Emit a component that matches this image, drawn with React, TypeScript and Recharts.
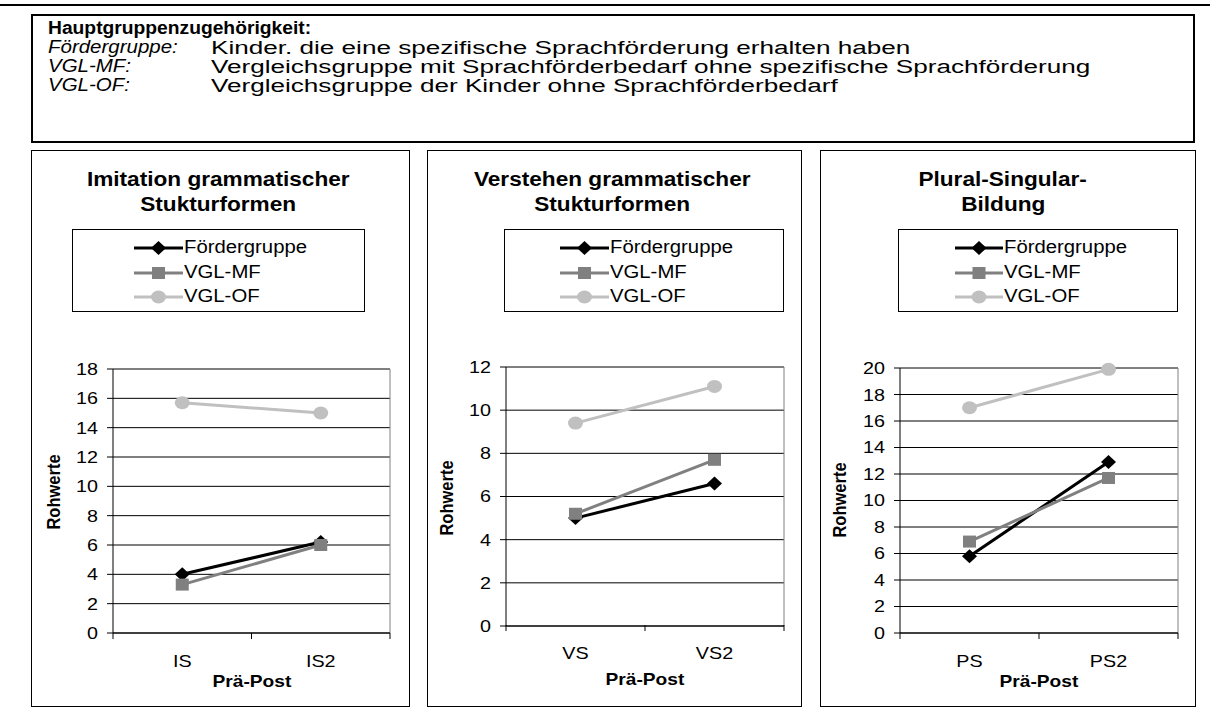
import React from 'react';
import { LineChart, Line, XAxis, YAxis, CartesianGrid, ReferenceLine } from 'recharts';

// series
const seriesNames = ['Fördergruppe', 'VGL-MF', 'VGL-OF'];

// Imitation grammatischer Stukturformen
const imitationCats = ['IS', 'IS2'];
const imitationFoerder = [4.0, 6.2];
const imitationMF = [3.3, 6.0];
const imitationOF = [15.7, 15.0];
const imitationTicks = [0, 2, 4, 6, 8, 10, 12, 14, 16, 18];

// Verstehen grammatischer Stukturformen
const verstehenCats = ['VS', 'VS2'];
const verstehenFoerder = [5.0, 6.6];
const verstehenMF = [5.2, 7.7];
const verstehenOF = [9.4, 11.1];
const verstehenTicks = [0, 2, 4, 6, 8, 10, 12];

// Plural-Singular-Bildung
const pluralCats = ['PS', 'PS2'];
const pluralFoerder = [5.8, 12.9];
const pluralMF = [6.9, 11.7];
const pluralOF = [17.0, 19.9];
const pluralTicks = [0, 2, 4, 6, 8, 10, 12, 14, 16, 18, 20];

const headerTitle = 'Hauptgruppenzugehörigkeit:';
const headerTerms = ['Fördergruppe:', 'VGL-MF:', 'VGL-OF:'];
const headerDescs = [
  'Kinder. die eine spezifische Sprachförderung erhalten haben',
  'Vergleichsgruppe mit Sprachförderbedarf ohne spezifische Sprachförderung',
  'Vergleichsgruppe der Kinder ohne Sprachförderbedarf',
];

const xTitle = 'Prä-Post';
const yTitle = 'Rohwerte';

const COLORS = ['#000000', '#808080', '#C0C0C0'];
const KEYS = ['foerder', 'mf', 'of'];
const FONT = '"Liberation Sans", Arial, Helvetica, sans-serif';
const SX = 1.16; // the source picture is stretched sideways

const Stretch = ({ children, origin = 'left center', sx = SX }: any) => (
  <span style={{ display: 'inline-block', transform: `scaleX(${sx})`, transformOrigin: origin, whiteSpace: 'nowrap' }}>
    {children}
  </span>
);

// x = left edge (or centre), y = vertical centre
const TextAt = ({ x, y, size, bold, italic, center, sx = SX, children }: any) => {
  const style: React.CSSProperties = {
    position: 'absolute',
    top: y - size / 2,
    fontSize: size,
    lineHeight: `${size}px`,
    fontFamily: FONT,
    fontWeight: bold ? 700 : 400,
    fontStyle: italic ? 'italic' : 'normal',
    whiteSpace: 'nowrap',
    color: '#000',
  };
  if (center) {
    return (
      <div style={{ ...style, left: x - 300, width: 600, textAlign: 'center' }}>
        <Stretch origin="center center" sx={sx}>{children}</Stretch>
      </div>
    );
  }
  return (
    <div style={{ ...style, left: x }}>
      <Stretch sx={sx}>{children}</Stretch>
    </div>
  );
};

const Marker = ({ kind, cx, cy }: any) => {
  if (kind === 0) {
    return <path d={`M${cx},${cy - 7} L${cx + 7.5},${cy} L${cx},${cy + 7} L${cx - 7.5},${cy} Z`} fill={COLORS[0]} />;
  }
  if (kind === 1) {
    return <rect x={cx - 6.5} y={cy - 6} width={13} height={12} fill={COLORS[1]} />;
  }
  return <ellipse cx={cx} cy={cy} rx={7.5} ry={6.5} fill={COLORS[2]} />;
};

const YTick = ({ x, y, payload }: any) => (
  <text
    x={x}
    y={y}
    textAnchor="end"
    dominantBaseline="central"
    fontSize={17}
    fontFamily={FONT}
    fill="#000"
    transform={`translate(${x} ${y}) scale(${SX} 1) translate(${-x} ${-y})`}
  >
    {payload.value}
  </text>
);

// whole numbers: tick marks between the categories; halves: category names
const makeCatTick = (cats: string[]) => ({ x, y, payload }: any) => {
  const v = payload.value;
  if (Number.isInteger(v)) {
    return <line x1={x} y1={y} x2={x} y2={y + 6} stroke="#000" strokeWidth={1} />;
  }
  return (
    <text
      x={x}
      y={y + 28}
      textAnchor="middle"
      dominantBaseline="central"
      fontSize={17}
      fontFamily={FONT}
      fill="#000"
      transform={`translate(${x} ${y}) scale(${SX} 1) translate(${-x} ${-y})`}
    >
      {cats[Math.floor(v)]}
    </text>
  );
};

const Panel = ({ box, plot, title, titleX, titleY, legend, cats, values, ticks, catDy, xTitleY, yTitleX, yTitleY }: any) => {
  const data = cats.map((c: string, i: number) => ({
    x: i + 0.5,
    cat: c,
    foerder: values[0][i],
    mf: values[1][i],
    of: values[2][i],
  }));
  const yW = 60;
  const xH = 40;
  const margin = {
    top: plot.t - box.y,
    right: box.x + box.w - plot.r,
    left: plot.l - box.x - yW,
    bottom: box.y + box.h - plot.b - xH,
  };
  const max = ticks[ticks.length - 1];
  const xTicks: number[] = [];
  cats.forEach((_: string, i: number) => {
    xTicks.push(i, i + 0.5);
  });
  xTicks.push(cats.length);
  const CatTick = makeCatTick(cats);
  return (
    <>
      <div
        style={{
          position: 'absolute',
          left: box.x,
          top: box.y,
          width: box.w,
          height: box.h,
          border: '1px solid #000',
          boxSizing: 'border-box',
        }}
      />
      <div style={{ position: 'absolute', left: box.x, top: box.y }}>
        <LineChart width={box.w} height={box.h} data={data} margin={margin}>
          <CartesianGrid vertical={false} stroke="#000" strokeWidth={1} />
          <XAxis
            type="number"
            dataKey="x"
            domain={[0, cats.length]}
            ticks={xTicks}
            interval={0}
            tickLine={false}
            tickSize={0}
            tickMargin={0}
            height={xH}
            stroke="#000"
            tick={(p: any) => <CatTick {...p} y={p.y + catDy} />}
          />
          <YAxis
            type="number"
            domain={[0, max]}
            ticks={ticks}
            interval={0}
            width={yW}
            tickSize={6}
            tickMargin={9}
            stroke="#000"
            tick={<YTick />}
          />
          <ReferenceLine y={max} stroke="#808080" strokeWidth={1} />
          <ReferenceLine x={cats.length} stroke="#808080" strokeWidth={1} />
          {KEYS.map((k, i) => (
            <Line
              key={k}
              dataKey={k}
              name={seriesNames[i]}
              stroke={COLORS[i]}
              strokeWidth={3}
              isAnimationActive={false}
              dot={(p: any) => <Marker key={`${k}-${p.index}`} kind={i} cx={p.cx} cy={p.cy} />}
              activeDot={false}
            />
          ))}
        </LineChart>
      </div>
      {title.map((t: string, i: number) => (
        <TextAt key={t} x={titleX} y={titleY[i]} size={19.5} bold center>
          {t}
        </TextAt>
      ))}
      <div
        style={{
          position: 'absolute',
          left: legend.x,
          top: legend.y,
          width: legend.w,
          height: legend.h,
          border: '1px solid #000',
          boxSizing: 'border-box',
        }}
      />
      {seriesNames.map((n, i) => {
        const cy = legend.rows[i];
        const x0 = legend.x + legend.l0;
        const x1 = legend.x + legend.l1;
        return (
          <React.Fragment key={n}>
            <svg style={{ position: 'absolute', left: x0, top: cy - 10 }} width={x1 - x0} height={20}>
              <line x1={0} y1={10} x2={x1 - x0} y2={10} stroke={COLORS[i]} strokeWidth={3} />
              <Marker kind={i} cx={(x1 - x0) / 2} cy={10} />
            </svg>
            <TextAt x={x1 + 1} y={cy} size={17.5}>
              {n}
            </TextAt>
          </React.Fragment>
        );
      })}
      <TextAt x={(plot.l + plot.r) / 2} y={xTitleY} size={16.5} bold center>
        {xTitle}
      </TextAt>
      <div
        style={{
          position: 'absolute',
          left: yTitleX - 100,
          top: yTitleY - 10,
          width: 200,
          height: 20,
          lineHeight: '20px',
          textAlign: 'center',
          fontFamily: FONT,
          fontWeight: 700,
          fontSize: 16.5,
          transform: `rotate(-90deg) scaleY(${SX})`,
          whiteSpace: 'nowrap',
        }}
      >
        {yTitle}
      </div>
    </>
  );
};

export default function App() {
  return (
    <div style={{ position: 'absolute', left: 0, top: 0, width: 1210, height: 715, background: '#fff', overflow: 'hidden' }}>
      <div style={{ position: 'absolute', left: 0, top: 4, width: 1210, height: 2, background: '#000' }} />
      <div
        style={{
          position: 'absolute',
          left: 31,
          top: 14,
          width: 1164,
          height: 129,
          border: '2px solid #000',
          boxSizing: 'border-box',
        }}
      />
      <TextAt x={48} y={29} size={17.5} bold sx={1.1}>
        {headerTitle}
      </TextAt>
      {headerTerms.map((t, i) => (
        <React.Fragment key={t}>
          <TextAt x={48} y={48 + i * 19} size={17.5} italic sx={1.17}>
            {t}
          </TextAt>
          <TextAt x={211} y={48 + i * 19} size={18} sx={1.45}>
            {headerDescs[i]}
          </TextAt>
        </React.Fragment>
      ))}
      <Panel
        box={{ x: 31, y: 150, w: 379, h: 557 }}
        plot={{ l: 113, r: 390, t: 369, b: 633 }}
        title={['Imitation grammatischer', 'Stukturformen']}
        titleX={218}
        titleY={[180, 205]}
        legend={{ x: 72, y: 229, w: 293, h: 83, l0: 62, l1: 111, rows: [248, 273, 297] }}
        cats={imitationCats}
        values={[imitationFoerder, imitationMF, imitationOF]}
        ticks={imitationTicks}
        catDy={0}
        xTitleY={681}
        yTitleX={53}
        yTitleY={492}
      />
      <Panel
        box={{ x: 427, y: 150, w: 375, h: 557 }}
        plot={{ l: 506, r: 784, t: 367, b: 626 }}
        title={['Verstehen grammatischer', 'Stukturformen']}
        titleX={612}
        titleY={[180, 205]}
        legend={{ x: 504, y: 229, w: 280, h: 83, l0: 56, l1: 105, rows: [248, 273, 297] }}
        cats={verstehenCats}
        values={[verstehenFoerder, verstehenMF, verstehenOF]}
        ticks={verstehenTicks}
        catDy={-1}
        xTitleY={679}
        yTitleX={446}
        yTitleY={498}
      />
      <Panel
        box={{ x: 820, y: 150, w: 376, h: 557 }}
        plot={{ l: 900, r: 1178, t: 368, b: 633 }}
        title={['Plural-Singular-', 'Bildung']}
        titleX={1003}
        titleY={[180, 205]}
        legend={{ x: 898, y: 229, w: 280, h: 83, l0: 57, l1: 105, rows: [248, 273, 297] }}
        cats={pluralCats}
        values={[pluralFoerder, pluralMF, pluralOF]}
        ticks={pluralTicks}
        catDy={0}
        xTitleY={681}
        yTitleX={839}
        yTitleY={500}
      />
    </div>
  );
}
